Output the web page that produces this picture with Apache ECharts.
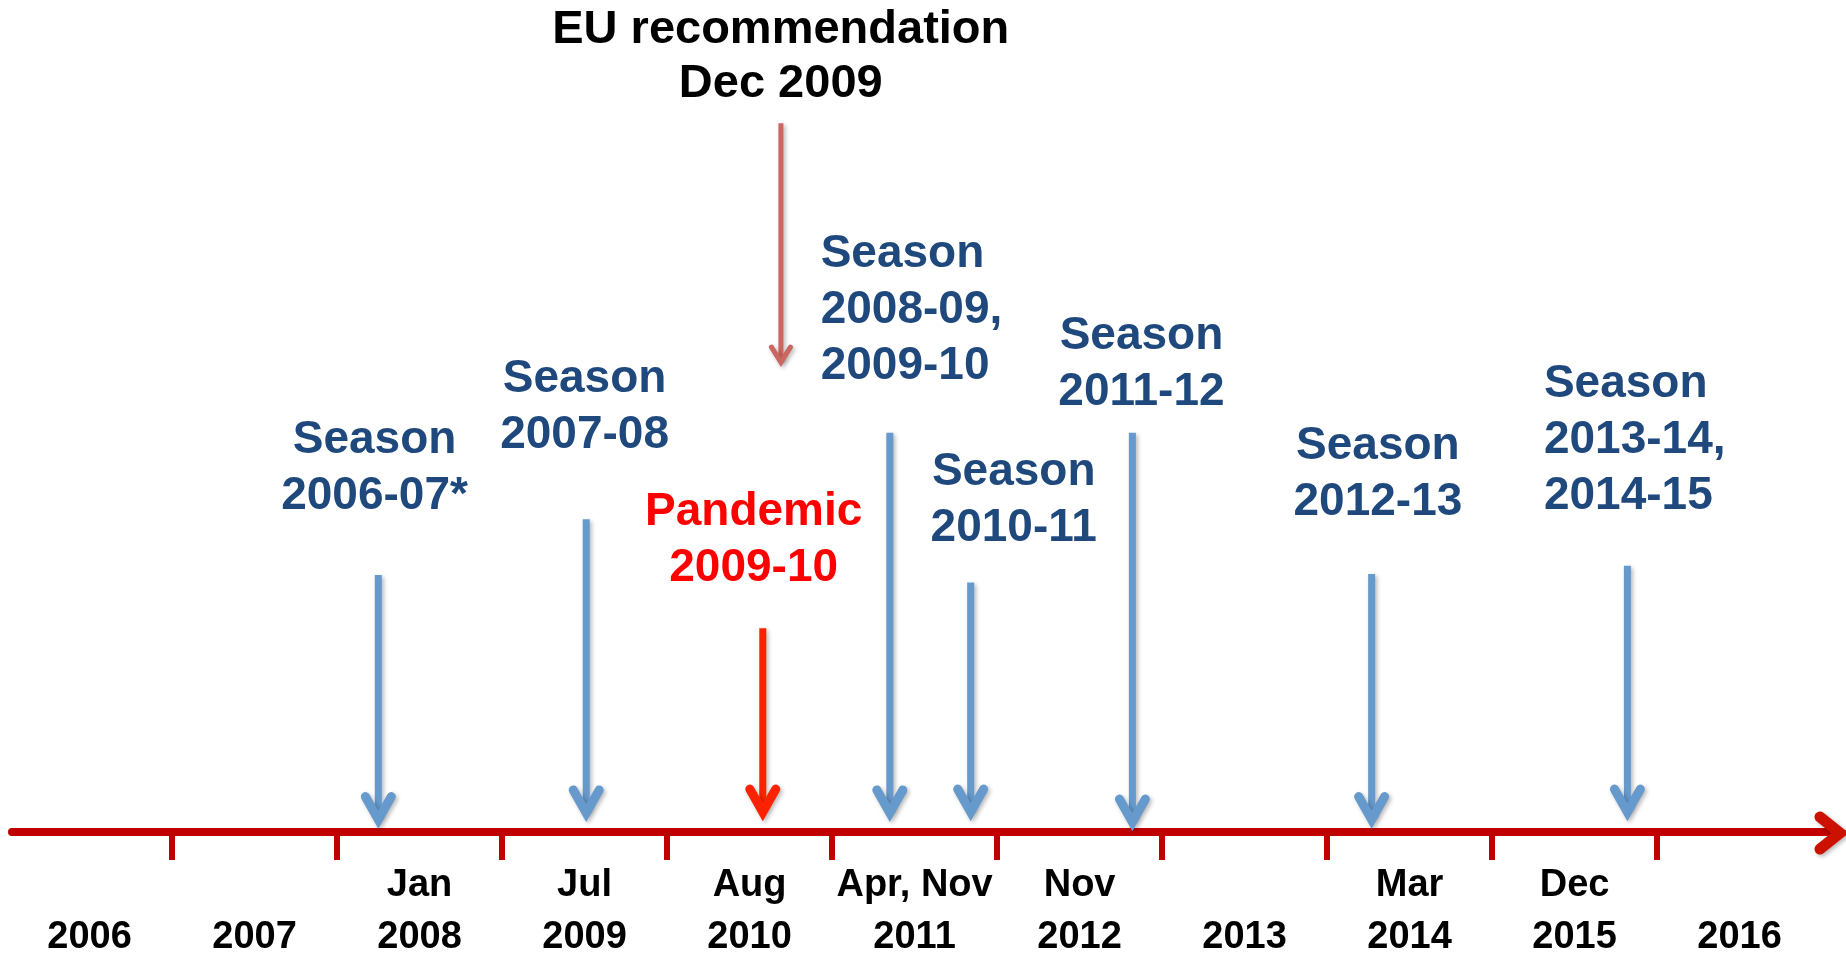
<!DOCTYPE html>
<html>
<head>
<meta charset="utf-8">
<title>Timeline</title>
<script src="https://cdn.jsdelivr.net/npm/echarts@6/dist/echarts.min.js"></script>
<style>
  html, body { margin: 0; padding: 0; background: #fff; }
  #chart { width: 1846px; height: 955px; }
</style>
</head>
<body>
<div id="chart"></div>
<script>
// axis labels
const years = [2006, 2007, 2008, 2009, 2010, 2011, 2012, 2013, 2014, 2015, 2016]
const months = ['', '', 'Jan', 'Jul', 'Aug', 'Apr, Nov', 'Nov', '', 'Mar', 'Dec', '']
const tickYears = [2007, 2008, 2009, 2010, 2011, 2012, 2013, 2014, 2015, 2016]
const axisStart = 2006.03
const axisEnd = 2017.06

// events (x in years, heights in % of the plot height above the axis)
const eventLabels = [
  'Season\n2006-07*',
  'Season\n2007-08',
  'Pandemic\n2009-10',
  'EU recommendation\nDec 2009',
  'Season\n2008-09,\n2009-10',
  'Season\n2010-11',
  'Season\n2011-12',
  'Season\n2012-13',
  'Season\n2013-14,\n2014-15'
]
const eventKinds = ['season', 'season', 'pandemic', 'eu', 'season', 'season', 'season', 'season', 'season']
const arrowDates = [2008.25, 2009.51, 2010.58, 2010.69, 2011.35, 2011.84, 2012.82, 2014.27, 2015.82]
const arrowTops = [30.9, 37.6, 24.5, 85.2, 48.0, 30.0, 48.0, 31.0, 32.0]
const arrowTips = [0.4, 1.2, 1.3, 55.9, 1.2, 1.3, 0.1, 0.4, 1.3]
const labelDates = [2008.227, 2009.50, 2010.525, 2010.689, 2010.931, 2012.101, 2012.875, 2014.308, 2015.314]
const labelHeights = [43.7, 51.0, 35.1, 93.1, 62.7, 39.9, 56.25, 43.0, 47.1]

// styles
const arrowStyle = {
  season:   { color: '#6699cc', width: 7, armWidth: 9, head: 13, headLen: 23, miter: 9.1 },
  pandemic: { color: '#ff2200', width: 7, armWidth: 9, head: 13, headLen: 23, miter: 9.1 },
  eu:       { color: '#cc6660', width: 5, armWidth: 5, head: 9.5, headLen: 15, miter: 4.7 }
}
const textStyle = {
  season:   { color: '#1f497d', size: 46, lineHeight: 56 },
  pandemic: { color: '#ff0000', size: 46, lineHeight: 56 },
  eu:       { color: '#000000', size: 47, lineHeight: 54 }
}
const leftAligned = [4, 8]
const FONT = '"Liberation Sans", Arial, Helvetica, sans-serif'

;(function () {
  const chart = echarts.init(document.getElementById('chart'))

  const shadow = {
    shadowColor: 'rgba(0,0,0,0.28)',
    shadowBlur: 4,
    shadowOffsetX: 2,
    shadowOffsetY: 2
  }

  function renderArrow(params, api) {
    const st = arrowStyle[eventKinds[params.dataIndex]]
    const top = api.coord([api.value(0), api.value(1)])
    const tip = api.coord([api.value(0), api.value(2)])
    const x = top[0]
    const vy = tip[1] - st.miter
    return {
      type: 'group',
      children: [
        {
          type: 'line',
          shape: { x1: x, y1: top[1], x2: x, y2: vy - 2 },
          style: Object.assign({ stroke: st.color, lineWidth: st.width, lineCap: 'butt' }, shadow)
        },
        {
          type: 'polyline',
          shape: { points: [[x - st.head, vy - st.headLen], [x, vy], [x + st.head, vy - st.headLen]] },
          style: Object.assign({ stroke: st.color, fill: null, lineWidth: st.armWidth, lineCap: 'round', lineJoin: 'miter' }, shadow)
        }
      ]
    }
  }

  // open arrow head at the end of the time axis
  function renderAxisHead(params, api) {
    const p = api.coord([api.value(0), api.value(1)])
    const vx = p[0] + 8
    const vy = p[1] + 1
    return {
      type: 'polyline',
      shape: { points: [[vx - 20, vy - 16], [vx, vy], [vx - 20, vy + 16]] },
      style: Object.assign({ stroke: '#cc1100', fill: null, lineWidth: 11, lineCap: 'round', lineJoin: 'miter' }, shadow)
    }
  }

  function renderLabel(params, api) {
    const i = params.dataIndex
    const ts = textStyle[eventKinds[i]]
    const p = api.coord([api.value(0), api.value(1)])
    return {
      type: 'text',
      x: p[0],
      y: p[1],
      style: {
        text: eventLabels[i],
        fill: ts.color,
        font: 'bold ' + ts.size + 'px ' + FONT,
        lineHeight: ts.lineHeight,
        align: leftAligned.indexOf(i) >= 0 ? 'left' : 'center',
        verticalAlign: 'middle'
      }
    }
  }

  const options = {
    animation: false,
    backgroundColor: '#ffffff',
    grid: { left: 12, right: 14, top: 0, bottom: 123, containLabel: false, outerBoundsMode: 'none' },
    xAxis: {
      type: 'value',
      min: axisStart,
      max: axisEnd,
      splitLine: { show: false },
      axisLine: {
        show: true,
        onZero: false,
        lineStyle: { color: '#c00000', width: 8 }
      },
      axisTick: {
        show: true,
        customValues: tickYears,
        length: 28,
        lineStyle: { color: '#c00000', width: 6 }
      },
      axisLabel: {
        show: true,
        customValues: years.map(function (y) { return y + 0.5 }),
        margin: 28,
        color: '#000000',
        fontFamily: FONT,
        fontWeight: 'bold',
        fontSize: 38,
        lineHeight: 52,
        formatter: function (v) {
          const i = years.indexOf(Math.floor(v))
          return months[i] + '\n' + years[i]
        }
      }
    },
    yAxis: {
      type: 'value',
      min: 0,
      max: 100,
      show: false
    },
    series: [
      {
        type: 'custom',
        name: 'axisHead',
        renderItem: renderAxisHead,
        data: [[axisEnd, 0]],
        clip: false,
        z: 2
      },
      {
        type: 'custom',
        name: 'arrows',
        renderItem: renderArrow,
        data: arrowDates.map(function (d, i) { return [d, arrowTops[i], arrowTips[i]] }),
        z: 3
      },
      {
        type: 'custom',
        name: 'labels',
        renderItem: renderLabel,
        data: labelDates.map(function (d, i) { return [d, labelHeights[i]] }),
        z: 4
      }
    ]
  }

  chart.setOption(options)

  window.addEventListener('resize', function () {
    chart.resize()
  })
})()
</script>
</body>
</html>
